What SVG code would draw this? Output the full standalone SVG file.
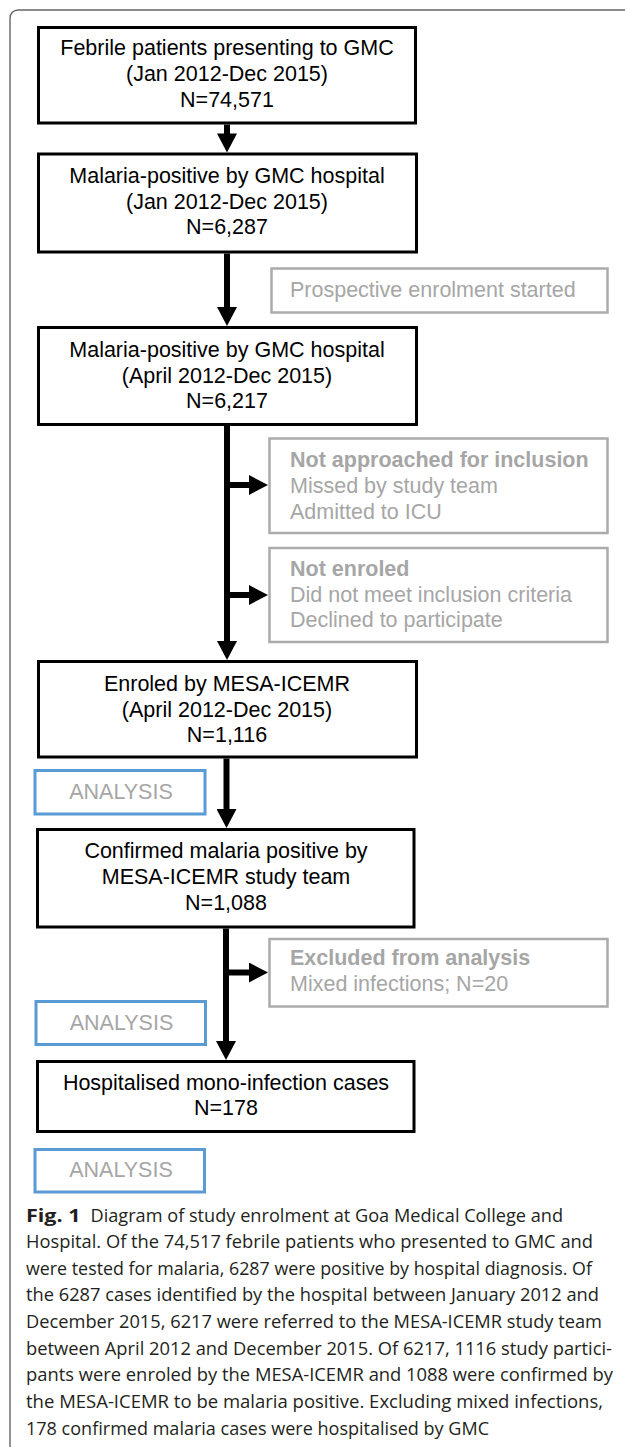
<svg xmlns="http://www.w3.org/2000/svg" width="625" height="1447" viewBox="0 0 625 1447">
<style>
.bg{fill:#ffffff}
.frame{fill:none;stroke:#666666;stroke-width:1.4}
.box{fill:#ffffff;stroke:#000000;stroke-width:3}
.gbox{fill:#ffffff;stroke:#ababab;stroke-width:2.5}
.abox{fill:#ffffff;stroke:#5b9bd5;stroke-width:3}
.t{font-family:"Liberation Sans",Arial,Helvetica,sans-serif;font-size:21.5px;fill:#000000;text-anchor:middle}
.g{font-family:"Liberation Sans",Arial,Helvetica,sans-serif;font-size:21.5px;fill:#a6a6a6}
.gb{font-weight:bold}
.a{text-anchor:middle}
.conn{fill:none;stroke:#000000;stroke-width:6}
.cap{font-family:"Open Sans","Noto Sans","DejaVu Sans",sans-serif;font-size:17.5px;fill:#231f20}
.capb{font-weight:bold}
</style>
<defs>
<marker id="ah" markerUnits="userSpaceOnUse" markerWidth="20" markerHeight="20" viewBox="0 0 19 20" refX="2" refY="10" orient="auto">
<path d="M0,0 L19,10 L0,20 z" fill="#000000"/>
</marker>
</defs>
<rect class="bg" x="0" y="0" width="625" height="1447"/>
<path class="frame" d="M10,1447 V18 A8,8 0 0 1 18,10 H625"/>

<g id="connectors">
<path class="conn" d="M227,124.5 V135.5" marker-end="url(#ah)"/>
<path class="conn" d="M227,253.5 V309" marker-end="url(#ah)"/>
<path class="conn" d="M227,426 V643" marker-end="url(#ah)"/>
<path class="conn" d="M227,485 H251" marker-end="url(#ah)"/>
<path class="conn" d="M227,595 H251" marker-end="url(#ah)"/>
<path class="conn" d="M226.5,758.5 V811" marker-end="url(#ah)"/>
<path class="conn" d="M226,928.5 V1043" marker-end="url(#ah)"/>
<path class="conn" d="M226,972.5 H251" marker-end="url(#ah)"/>
</g>

<g id="febrile">
<rect class="box" x="38.5" y="27.5" width="377" height="95.5"/>
<text class="t" x="227" y="55">Febrile patients presenting to GMC</text>
<text class="t" x="227" y="81">(Jan 2012-Dec 2015)</text>
<text class="t" x="227" y="106.5">N=74,571</text>
</g>

<g id="malaria-jan">
<rect class="box" x="38.5" y="154" width="378" height="98"/>
<text class="t" x="227" y="182.5">Malaria-positive by GMC hospital</text>
<text class="t" x="227" y="209">(Jan 2012-Dec 2015)</text>
<text class="t" x="227" y="234">N=6,287</text>
</g>

<g id="prospective">
<rect class="gbox" x="271.5" y="268.5" width="336" height="44"/>
<text class="g" x="290" y="297">Prospective enrolment started</text>
</g>

<g id="malaria-april">
<rect class="box" x="38.5" y="327.5" width="378" height="97"/>
<text class="t" x="227" y="356.5">Malaria-positive by GMC hospital</text>
<text class="t" x="227" y="383">(April 2012-Dec 2015)</text>
<text class="t" x="227" y="408">N=6,217</text>
</g>

<g id="not-approached">
<rect class="gbox" x="269.5" y="438.5" width="338" height="94.5"/>
<text class="g gb" x="290" y="466.5">Not approached for inclusion</text>
<text class="g" x="290" y="492.5">Missed by study team</text>
<text class="g" x="290" y="518.5">Admitted to ICU</text>
</g>

<g id="not-enroled">
<rect class="gbox" x="269.5" y="548" width="338" height="94"/>
<text class="g gb" x="290" y="576">Not enroled</text>
<text class="g" x="290" y="602">Did not meet inclusion criteria</text>
<text class="g" x="290" y="627">Declined to participate</text>
</g>

<g id="enroled">
<rect class="box" x="38.5" y="661.5" width="378" height="95.5"/>
<text class="t" x="227" y="690.5">Enroled by MESA-ICEMR</text>
<text class="t" x="227" y="716.5">(April 2012-Dec 2015)</text>
<text class="t" x="227" y="741.5">N=1,116</text>
</g>

<g id="analysis-1">
<rect class="abox" x="35" y="770.5" width="170" height="43.5"/>
<text class="g a" x="121" y="798.5">ANALYSIS</text>
</g>

<g id="confirmed">
<rect class="box" x="37.5" y="829.5" width="376.5" height="97.5"/>
<text class="t" x="226" y="858">Confirmed malaria positive by</text>
<text class="t" x="226" y="884">MESA-ICEMR study team</text>
<text class="t" x="226" y="910">N=1,088</text>
</g>

<g id="excluded">
<rect class="gbox" x="269.5" y="939" width="338" height="67.5"/>
<text class="g gb" x="290" y="965">Excluded from analysis</text>
<text class="g" x="290" y="990.5">Mixed infections; N=20</text>
</g>

<g id="analysis-2">
<rect class="abox" x="36" y="1001.5" width="169.5" height="43"/>
<text class="g a" x="121.5" y="1029.5">ANALYSIS</text>
</g>

<g id="hospitalised">
<rect class="box" x="37.5" y="1061.5" width="376.5" height="70"/>
<text class="t" x="226" y="1090">Hospitalised mono-infection cases</text>
<text class="t" x="226" y="1115">N=178</text>
</g>

<g id="analysis-3">
<rect class="abox" x="35" y="1149.5" width="169.5" height="42.5"/>
<text class="g a" x="121" y="1177">ANALYSIS</text>
</g>

<g id="caption">
<text class="cap capb" x="26" y="1221.5" textLength="54.5" lengthAdjust="spacingAndGlyphs">Fig. 1</text>
<text class="cap" x="90.5" y="1221.5" textLength="472.5" lengthAdjust="spacingAndGlyphs">Diagram of study enrolment at Goa Medical College and</text>
<text class="cap" x="26" y="1248" textLength="567" lengthAdjust="spacingAndGlyphs">Hospital. Of the 74,517 febrile patients who presented to GMC and</text>
<text class="cap" x="26" y="1274.7" textLength="566" lengthAdjust="spacingAndGlyphs">were tested for malaria, 6287 were positive by hospital diagnosis. Of</text>
<text class="cap" x="26" y="1301.3" textLength="573" lengthAdjust="spacingAndGlyphs">the 6287 cases identified by the hospital between January 2012 and</text>
<text class="cap" x="26" y="1328" textLength="576" lengthAdjust="spacingAndGlyphs">December 2015, 6217 were referred to the MESA-ICEMR study team</text>
<text class="cap" x="26" y="1354.7" textLength="586" lengthAdjust="spacingAndGlyphs">between April 2012 and December 2015. Of 6217, 1116 study partici-</text>
<text class="cap" x="26" y="1381.3" textLength="587" lengthAdjust="spacingAndGlyphs">pants were enroled by the MESA-ICEMR and 1088 were confirmed by</text>
<text class="cap" x="26" y="1408" textLength="577" lengthAdjust="spacingAndGlyphs">the MESA-ICEMR to be malaria positive. Excluding mixed infections,</text>
<text class="cap" x="26" y="1434.7" textLength="463" lengthAdjust="spacingAndGlyphs">178 confirmed malaria cases were hospitalised by GMC</text>
</g>
</svg>
